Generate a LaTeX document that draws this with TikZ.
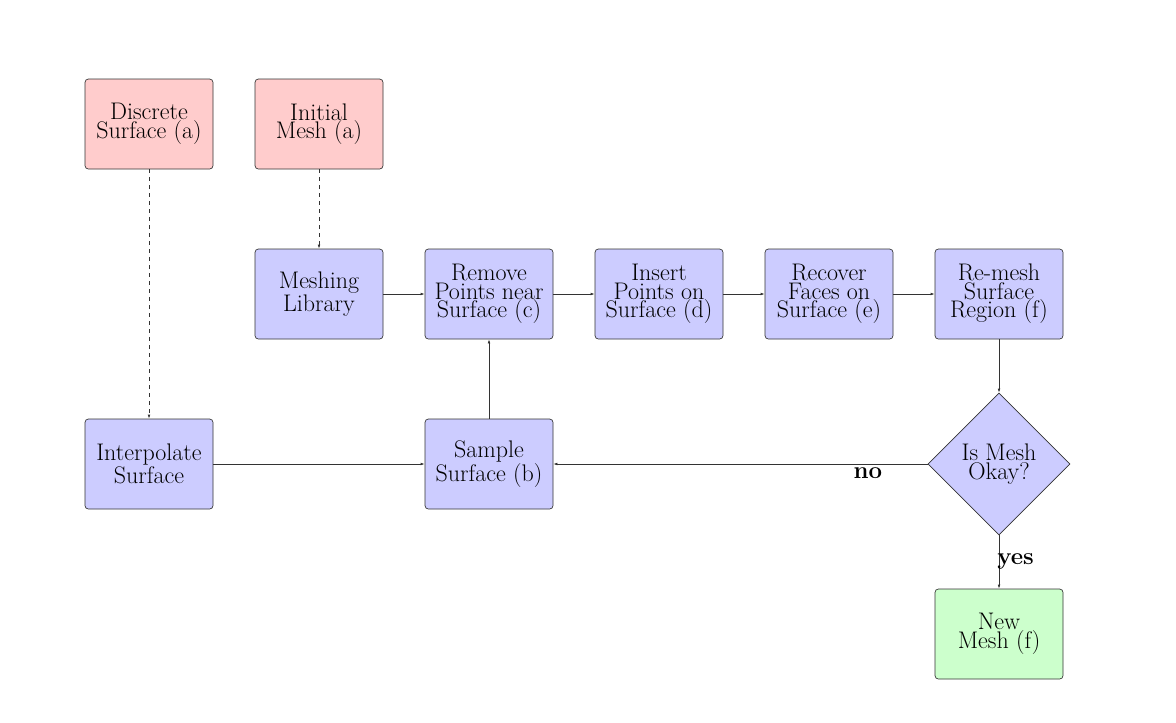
\documentclass[tikz,border=0pt]{standalone}
\usetikzlibrary{shapes.geometric,arrows.meta}
\begin{document}
\begin{tikzpicture}[x=0.75pt,y=-0.75pt,
  boxbase/.style={draw=black!80, line width=0.5pt, rounded corners=2.5pt,
    minimum width=96pt, minimum height=67.5pt, align=center, inner sep=0pt,
    font=\fontsize{18}{13.9}\selectfont},
  redbox/.style={boxbase, fill=red!20},
  bluebox/.style={boxbase, fill=blue!20},
  greenbox/.style={boxbase, fill=green!20},
  decide/.style={diamond, aspect=1, draw=black!80, line width=0.5pt, fill=blue!20,
    minimum width=106.5pt, minimum height=106.5pt, inner sep=0pt, align=center,
    font=\fontsize{18}{13.9}\selectfont},
  conn/.style={draw=black!80, line width=0.5pt, -{Latex[length=3pt,width=2pt]}},
  dconn/.style={conn, dashed},
  lab/.style={font=\fontsize{18}{13.9}\selectfont\bfseries, inner sep=0pt}]
\useasboundingbox (0,0) rectangle (1176,722);
\node[redbox] (disc) at (149,124) {Discrete\\Surface (a)};
\node[redbox] (init) at (319,124) {Initial\\Mesh (a)};
\node[bluebox] (lib) at (319,294) {Meshing\\Library};
\node[bluebox] (remove) at (489,294) {Remove\\Points near\\Surface (c)};
\node[bluebox] (insert) at (659,294) {Insert\\Points on\\Surface (d)};
\node[bluebox] (recover) at (829,294) {Recover\\Faces on\\Surface (e)};
\node[bluebox] (remesh) at (999,294) {Re-mesh\\Surface\\Region (f)};
\node[bluebox] (interp) at (149,464) {Interpolate\\Surface};
\node[bluebox] (sample) at (489,464) {Sample\\Surface (b)};
\node[decide] (okay) at (999,464) {Is Mesh\\Okay?};
\node[greenbox] (new) at (999,634) {New\\Mesh (f)};
\draw[dconn] (disc) -- (interp);
\draw[dconn] (init) -- (lib);
\draw[conn] (lib) -- (remove);
\draw[conn] (remove) -- (insert);
\draw[conn] (insert) -- (recover);
\draw[conn] (recover) -- (remesh);
\draw[conn] (remesh) -- (okay);
\draw[conn] (okay) -- node[lab, pos=0.16, anchor=base, yshift=-10.5pt] (nolab) {no} (sample);
\draw[conn] (okay) -- node[lab, pos=0.5, anchor=base west, xshift=-1.5pt, yshift=-1.5pt] (yeslab) {yes} (new);
\draw[conn] (interp) -- (sample);
\draw[conn] (sample) -- (remove);
\end{tikzpicture}
\end{document}
